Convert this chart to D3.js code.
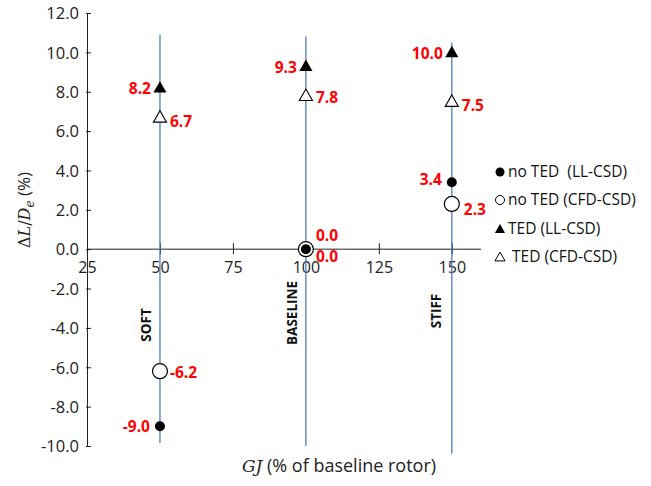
<!DOCTYPE html>
<html><head><meta charset="utf-8">
<script src="https://cdn.jsdelivr.net/npm/d3@7"></script>
<style>
body{margin:0;background:#fff;}
text{font-family:"Open Sans","Noto Sans",sans-serif;}
</style></head>
<body><svg id="c" width="651" height="486"></svg>
<script>
// ---- data ----
const gj = [50, 100, 150];
const categories = ["SOFT", "BASELINE", "STIFF"];
const noTedLL  = [-9.0, 0.0, 3.4];
const noTedCFD = [-6.2, 0.0, 2.3];
const tedLL    = [8.2, 9.3, 10.0];
const tedCFD   = [6.7, 7.8, 7.5];
const lineTop  = [10.9, 10.8, 10.5];
const lineBot  = [-9.85, -10.0, -10.4];
const xTicks = [25, 50, 75, 100, 125, 150];
const yTicks = [-10, -8, -6, -4, -2, 0, 2, 4, 6, 8, 10, 12];
const legendLabels = ["no TED  (LL-CSD)", "no TED (CFD-CSD)", "TED (LL-CSD)", " TED (CFD-CSD)"];

const loc = d3.formatLocale({decimal: ".", thousands: ",", grouping: [3], currency: ["", ""], minus: "-"});
const f1 = loc.format(".1f");

const svg = d3.select("#c");
const x = d3.scaleLinear().domain([25, 160]).range([87, 481]);
const y = d3.scaleLinear().domain([-10, 12]).range([446, 13]);

// x axis at y=0
const xAxis = svg.append("g").attr("transform", `translate(0,${y(0)})`)
  .call(d3.axisBottom(x).tickValues(xTicks).tickSize(5).tickFormat(loc.format("d")));
xAxis.select(".domain").attr("stroke", "#222").attr("d", `M${x(25)},0H${x(160)}`);
xAxis.selectAll(".tick line").attr("stroke", "#222").attr("y1", -6).attr("y2", 5);
xAxis.selectAll(".tick text").attr("font-size", 16).attr("fill", "#222").attr("y", 9).attr("dy", "0.9em");

const yAxis = svg.append("g").attr("transform", `translate(${x(25)},0)`)
  .call(d3.axisLeft(y).tickValues(yTicks).tickSize(0).tickFormat(f1));
yAxis.select(".domain").attr("stroke", "#222");
yAxis.selectAll(".tick line").attr("stroke", "#222").attr("x1", -1).attr("x2", 4);
yAxis.selectAll(".tick text").attr("font-size", 16.5).attr("fill", "#222").attr("x", -8).attr("dy", "0.35em");

// vertical reference lines
svg.append("g").selectAll("line").data(gj).join("line")
  .attr("x1", d => x(d)).attr("x2", d => x(d))
  .attr("y1", (d, i) => y(lineTop[i])).attr("y2", (d, i) => y(lineBot[i]))
  .attr("stroke", "#4f7db8").attr("stroke-width", 1.3);

// category labels
const catPos = [{dx: -9, cy: 325}, {dx: -9, cy: 313}, {dx: -11, cy: 311}];
svg.append("g").selectAll("text").data(categories).join("text")
  .attr("transform", (d, i) => `translate(${x(gj[i]) + catPos[i].dx},${catPos[i].cy}) rotate(-90)`)
  .attr("text-anchor", "middle").attr("font-size", 13.5).attr("font-weight", "bold").attr("fill", "#111")
  .text(d => d);

// markers
const tri = d3.symbol().type(d3.symbolTriangle).size(75);
svg.append("g").selectAll("path").data(gj).join("path")
  .attr("d", tri).attr("transform", (d, i) => `translate(${x(d)},${y(tedCFD[i]) + 1})`)
  .attr("fill", "#fff").attr("stroke", "#000").attr("stroke-width", 1.1);
svg.append("g").selectAll("path").data(gj).join("path")
  .attr("d", tri).attr("transform", (d, i) => `translate(${x(d)},${y(tedLL[i]) + 1})`)
  .attr("fill", "#000");
svg.append("g").selectAll("circle").data(gj).join("circle")
  .attr("cx", d => x(d)).attr("cy", (d, i) => y(noTedCFD[i])).attr("r", 7.5)
  .attr("fill", "#fff").attr("stroke", "#000").attr("stroke-width", 1.2);
svg.append("g").selectAll("circle").data(gj).join("circle")
  .attr("cx", d => x(d)).attr("cy", (d, i) => y(noTedLL[i])).attr("r", 5)
  .attr("fill", "#000");

// value labels
const lab = (vals, place) => {
  svg.append("g").selectAll("text").data(gj).join("text")
    .attr("x", (d, i) => x(d) + place[i][0])
    .attr("y", (d, i) => y(vals[i]) + place[i][1])
    .attr("text-anchor", (d, i) => place[i][0] < 0 ? "end" : "start")
    .attr("dy", "0.35em").attr("font-size", 15.5).attr("font-weight", "bold").attr("fill", "#ff0000")
    .text((d, i) => f1(vals[i]));
};
lab(tedLL, [[-9, 1], [-9, 1], [-9, 1]]);
lab(tedCFD, [[10, 4], [10, 2], [10, 4]]);
lab(noTedLL, [[-10, 0], [10, -14], [-10, -3]]);
lab(noTedCFD, [[10, 1], [10, 7], [12, 6]]);

// axis titles
const yt = svg.append("text").attr("transform", "translate(30,210) rotate(-90)")
  .attr("text-anchor", "middle").attr("font-size", 17).attr("fill", "#222");
yt.append("tspan").attr("font-family", "DejaVu Serif").attr("font-size", 16).text("Δ");
yt.append("tspan").attr("font-family", "DejaVu Serif").attr("font-style", "italic").attr("font-size", 16).text("L");
yt.append("tspan").attr("font-family", "DejaVu Serif").attr("font-size", 16).text("/");
yt.append("tspan").attr("font-family", "DejaVu Serif").attr("font-style", "italic").attr("font-size", 16).text("D");
yt.append("tspan").attr("font-family", "DejaVu Serif").attr("font-style", "italic").attr("font-size", 12).attr("dy", 4).text("e");
yt.append("tspan").attr("dy", -4).text(" (%)");

const xt = svg.append("text").attr("x", 339).attr("y", 472).attr("text-anchor", "middle")
  .attr("font-size", 18).attr("fill", "#222");
xt.append("tspan").attr("font-family", "DejaVu Serif").attr("font-style", "italic").attr("font-size", 17).text("GJ");
xt.append("tspan").text(" (% of baseline rotor)");

// legend
const lg = svg.append("g").attr("transform", "translate(500,0)");
const rows = [172, 200, 229, 257];
legendLabels.forEach((t, i) => {
  const g = lg.append("g").attr("transform", `translate(0,${rows[i]})`);
  if (i === 0) g.append("circle").attr("r", 4.5).attr("fill", "#000");
  if (i === 1) g.append("circle").attr("r", 4.5).attr("fill", "#fff").attr("stroke", "#000");
  if (i === 2) g.append("path").attr("d", d3.symbol().type(d3.symbolTriangle).size(45)).attr("transform", "translate(0,1)").attr("fill", "#000");
  if (i === 3) g.append("path").attr("d", d3.symbol().type(d3.symbolTriangle).size(45)).attr("transform", "translate(0,1)").attr("fill", "#fff").attr("stroke", "#000");
  g.append("text").attr("x", 8).attr("dy", "0.35em").attr("font-size", 15.5).attr("fill", "#111")
    .attr("xml:space", "preserve").style("white-space", "pre").text(t);
});
</script></body></html>
